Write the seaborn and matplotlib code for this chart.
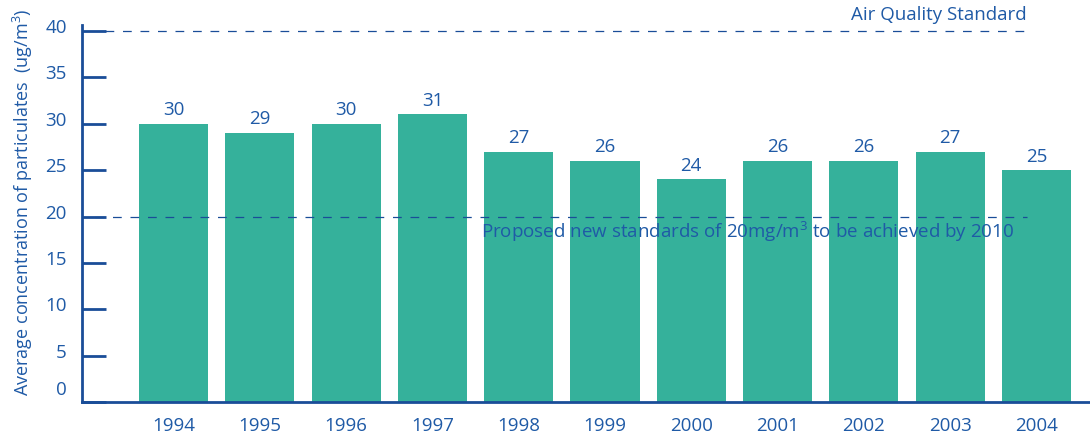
import matplotlib
matplotlib.use("Agg")
import matplotlib.pyplot as plt
import matplotlib.transforms as mtransforms
import seaborn as sns
import pandas as pd

years = ["1994", "1995", "1996", "1997", "1998", "1999", "2000", "2001", "2002", "2003", "2004"]
values = [30, 29, 30, 31, 27, 26, 24, 26, 26, 27, 25]
yticks = [0, 5, 10, 15, 20, 25, 30, 35, 40]
air_quality_standard = 40
proposed_standard = 20

BAR = "#35b19b"
TXT = "#1f5aa6"
AX = "#1a4d98"

sns.set_theme(style="white")
plt.rcParams["font.family"] = ["Open Sans", "DejaVu Sans"]
plt.rcParams["mathtext.default"] = "regular"

df = pd.DataFrame({"year": years, "value": values})

fig = plt.figure(figsize=(10.9, 4.36), dpi=100)
ax = fig.add_axes([82 / 1090, 34 / 436, 1008 / 1090, 377 / 436])

sns.barplot(data=df, x="year", y="value", color=BAR, saturation=1, width=0.8,
            linewidth=0, ax=ax)

ax.set_xlim(-1.06, 10.62)
ax.set_ylim(0, 40.65)

FS = 13.5
for i, v in enumerate(values):
    ax.text(i, v + 0.5, str(v), ha="center", va="bottom", fontsize=FS, color=TXT)

ax.axhline(air_quality_standard, xmin=(105 - 82) / 1008, xmax=(1027 - 82) / 1008,
           color=AX, lw=0.9, dashes=(7, 7))
ax.axhline(proposed_standard, xmin=(95 - 82) / 1008, xmax=(1027 - 82) / 1008,
           color=AX, lw=0.9, dashes=(7, 7))

ax.text(9.89, air_quality_standard + 0.75, "Air Quality Standard", ha="right", va="bottom",
        fontsize=FS, color=TXT)
ax.text(3.56, proposed_standard - 0.4, "Proposed new standards of 20mg/m$^3$ to be achieved by 2010",
        ha="left", va="top", fontsize=FS, color=TXT)

for s in ["top", "right"]:
    ax.spines[s].set_visible(False)
for s in ["left", "bottom"]:
    ax.spines[s].set_color(AX)
    ax.spines[s].set_linewidth(2)

ax.set_yticks(yticks)
ax.set_yticklabels([str(t) for t in yticks])
ax.tick_params(axis="y", direction="in", length=17, width=2, color=AX, pad=11,
               labelsize=FS, labelcolor=TXT, left=True)
ax.tick_params(axis="x", length=0, pad=11, labelsize=FS, labelcolor=TXT)

for lab, t in zip(ax.get_yticklabels(), yticks):
    dy = 14 if t == 0 else 5
    lab.set_transform(lab.get_transform() + mtransforms.ScaledTranslation(0, dy / 100, fig.dpi_scale_trans))

ax.set_xlabel("")
ax.set_ylabel("Average concentration of particulates  (ug/m$^3$)", fontsize=13, color=TXT)
ax.yaxis.set_label_coords(-0.047, 0.53)

fig.savefig("out.png", dpi=100)
